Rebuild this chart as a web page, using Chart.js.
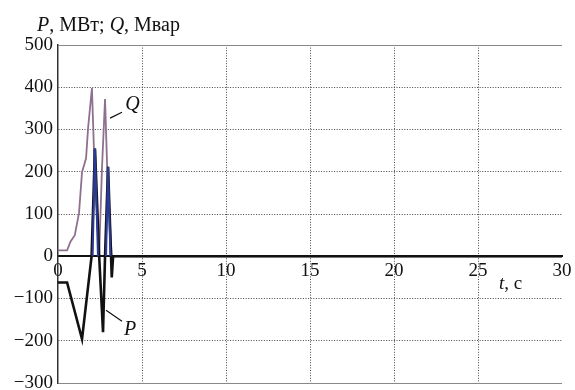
<!DOCTYPE html>
<html>
<head>
<meta charset="utf-8">
<script src="https://cdn.jsdelivr.net/npm/chart.js@4"></script>
<style>
  html, body { margin: 0; padding: 0; background: #fff; }
</style>
</head>
<body>
<canvas id="c" width="575" height="390"></canvas>
<script>
// values
const qTime = [0, 0.54, 0.75, 1.0, 1.25, 1.43, 1.67, 1.79, 2.02, 2.2, 2.45, 2.62, 2.8, 2.95, 3.2, 3.4, 30];
const qVal  = [14, 14, 35, 50, 102, 199, 232, 303, 398, 180, 5, 210, 372, 180, 0, 0, 0];

const pTime = [0, 0.54, 1.43, 2.0, 2.2, 2.45, 2.68, 2.8, 2.98, 3.2, 3.28, 30];
const pVal  = [-62, -62, -196, 0, 255, 0, -180, 0, 212, -50, 0, 0];

const bTime = [2.06, 2.2, 2.38, null, 2.86, 2.98, 3.12];
const bVal  = [0, 255, 0, null, 0, 212, 0];

const xMin = 0, xMax = 30, xStep = 5;
const yMin = -300, yMax = 500, yStep = 100;

const serif = '"Liberation Serif", "DejaVu Serif", serif';

function toPoints(ts, vs){
  return ts.map((t,i)=> t==null ? {x:null, y:null} : {x:t, y:vs[i]});
}

// text labels drawn over the plot
const notes = {
  id: 'notes',
  afterDraw(chart){
    const {ctx, scales:{x, y}} = chart;
    ctx.save();
    ctx.fillStyle = '#111';
    ctx.textBaseline = 'alphabetic';

    // axis title, mixed italic
    let cx = 37;
    [['P',true],[', МВт; ',false],['Q',true],[', Мвар',false]].forEach(([s,it])=>{
      ctx.font = (it?'italic ':'') + '20px ' + serif;
      ctx.fillText(s, cx, 31);
      cx += ctx.measureText(s).width;
    });

    // t, c
    cx = x.getPixelForValue(26.25);
    const ty = y.getPixelForValue(-78);
    [['t',true],[', c',false]].forEach(([s,it])=>{
      ctx.font = (it?'italic ':'') + '19px ' + serif;
      ctx.fillText(s, cx, ty);
      cx += ctx.measureText(s).width;
    });

    // leaders + curve names
    ctx.strokeStyle = '#111';
    ctx.lineWidth = 1.2;
    ctx.beginPath();
    ctx.moveTo(x.getPixelForValue(3.1), y.getPixelForValue(327));
    ctx.lineTo(x.getPixelForValue(3.81), y.getPixelForValue(341));
    ctx.moveTo(x.getPixelForValue(2.86), y.getPixelForValue(-128));
    ctx.lineTo(x.getPixelForValue(3.81), y.getPixelForValue(-154));
    ctx.stroke();

    ctx.font = 'italic 20px ' + serif;
    ctx.fillText('Q', x.getPixelForValue(4.0), y.getPixelForValue(346));
    ctx.fillText('P', x.getPixelForValue(3.93), y.getPixelForValue(-187));
    ctx.restore();
  }
};

const edge = (v, a, b) => v === a || v === b;

new Chart(document.getElementById('c'), {
  type: 'scatter',
  data: {
    datasets: [
      { label: 'Q', data: toPoints(qTime, qVal), showLine: true, pointRadius: 0,
        borderColor: '#8f7090', borderWidth: 1.8, tension: 0, order: 3 },
      { label: 'P', data: toPoints(pTime, pVal), showLine: true, pointRadius: 0,
        borderColor: '#111', borderWidth: 2.6, tension: 0, order: 2 },
      { label: 'P2', data: toPoints(bTime, bVal), showLine: true, spanGaps: false, pointRadius: 0,
        borderColor: '#2b3b95', borderWidth: 2, tension: 0, order: 1 }
    ]
  },
  options: {
    responsive: false,
    animation: false,
    events: [],
    layout: { padding: { left: 0, top: 45, right: 13, bottom: 7 } },
    plugins: { legend: { display: false }, tooltip: { enabled: false }, title: { display: false } },
    scales: {
      x: {
        type: 'linear', min: xMin, max: xMax,
        position: { y: 0 },
        ticks: { stepSize: xStep, padding: 3, color: '#111', font: { family: serif, size: 19 } },
        grid: { drawTicks: false,
          color: c => (c.tick && edge(c.tick.value, xMin, xMax)) ? 'rgba(0,0,0,0)' : '#444',
          lineWidth: 1 },
        border: { color: '#111', width: 2, dash: c => c.tick ? [1, 1.6] : [] },
        afterFit: s => { s.paddingLeft = 0; s.paddingRight = 0; }
      },
      y: {
        type: 'linear', min: yMin, max: yMax, position: 'left',
        ticks: { stepSize: yStep, padding: 5, color: '#111', font: { family: serif, size: 19 },
          callback: v => String(v).replace('-', '\u2212') },
        grid: { drawTicks: false,
          color: c => (c.tick && edge(c.tick.value, yMin, yMax)) ? '#888' : '#444',
          lineWidth: 1 },
        border: { color: '#333', width: 1.5,
          dash: c => (c.tick && !edge(c.tick.value, yMin, yMax)) ? [1, 1.6] : [] },
        afterFit: s => { s.width = 58; s.paddingTop = 0; s.paddingBottom = 0; }
      }
    }
  },
  plugins: [notes]
});
</script>
</body>
</html>
